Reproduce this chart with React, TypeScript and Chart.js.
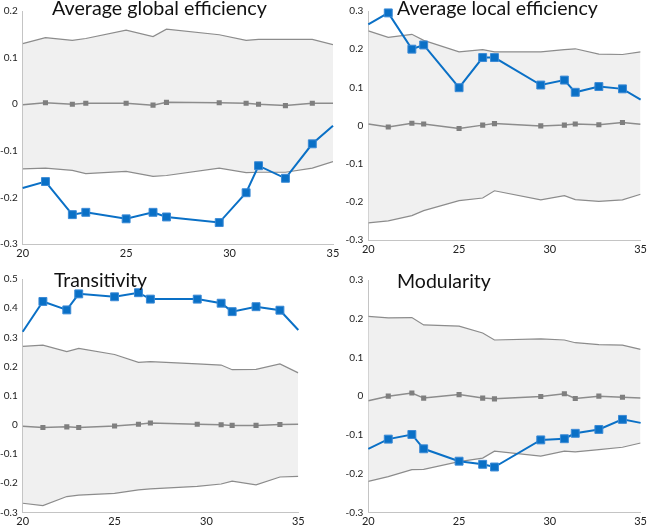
import React, { useEffect, useRef } from "react";
import { Chart, registerables } from "chart.js";

Chart.register(...registerables);

// ---- data ----
const X_VALUES = [20, 21.1, 22.4, 23.05, 25, 26.3, 26.95, 29.5, 30.8, 31.4, 32.7, 34, 35];
const SHOW_MARKER = [false, true, true, true, true, true, true, true, true, true, true, true, false];

const GLOBAL_OBS = [-0.18, -0.166, -0.237, -0.232, -0.246, -0.232, -0.242, -0.254, -0.19, -0.132, -0.159, -0.085, -0.046];
const GLOBAL_MEAN = [-0.001, 0.003, 0.0, 0.002, 0.002, -0.002, 0.004, 0.003, 0.002, 0.0, -0.003, 0.002, 0.002];
const GLOBAL_UPPER = [0.13, 0.143, 0.137, 0.141, 0.159, 0.145, 0.161, 0.149, 0.137, 0.139, 0.139, 0.139, 0.128];
const GLOBAL_LOWER = [-0.139, -0.137, -0.142, -0.149, -0.144, -0.155, -0.153, -0.137, -0.147, -0.146, -0.146, -0.137, -0.123];

const LOCAL_OBS = [0.265, 0.295, 0.2, 0.211, 0.099, 0.178, 0.178, 0.106, 0.119, 0.087, 0.102, 0.096, 0.068];
const LOCAL_MEAN = [0.004, -0.004, 0.006, 0.004, -0.008, 0.001, 0.005, -0.001, 0.001, 0.004, 0.002, 0.008, 0.003];
const LOCAL_UPPER = [0.248, 0.231, 0.239, 0.223, 0.193, 0.199, 0.193, 0.193, 0.199, 0.201, 0.187, 0.186, 0.193];
const LOCAL_LOWER = [-0.255, -0.25, -0.236, -0.223, -0.197, -0.19, -0.171, -0.195, -0.184, -0.194, -0.199, -0.195, -0.18];

const TRANS_OBS = [0.319, 0.423, 0.394, 0.449, 0.439, 0.453, 0.431, 0.431, 0.417, 0.388, 0.405, 0.393, 0.325];
const TRANS_MEAN = [-0.005, -0.009, -0.007, -0.009, -0.004, 0.002, 0.006, 0.002, 0.0, -0.002, -0.002, 0.001, 0.002];
const TRANS_UPPER = [0.269, 0.273, 0.251, 0.262, 0.241, 0.214, 0.217, 0.209, 0.205, 0.189, 0.19, 0.209, 0.178];
const TRANS_LOWER = [-0.269, -0.277, -0.246, -0.241, -0.235, -0.223, -0.22, -0.211, -0.203, -0.193, -0.206, -0.179, -0.177];

const MOD_OBS = [-0.136, -0.111, -0.099, -0.136, -0.168, -0.176, -0.183, -0.113, -0.11, -0.096, -0.086, -0.06, -0.069];
const MOD_MEAN = [-0.012, 0.0, 0.008, -0.005, 0.004, -0.005, -0.007, -0.001, 0.006, -0.006, 0.0, -0.003, -0.005];
const MOD_UPPER = [0.206, 0.202, 0.203, 0.184, 0.181, 0.163, 0.145, 0.148, 0.145, 0.138, 0.133, 0.132, 0.121];
const MOD_LOWER = [-0.22, -0.208, -0.19, -0.189, -0.169, -0.16, -0.142, -0.155, -0.142, -0.144, -0.138, -0.132, -0.121];

const TITLES = ["Average global efficiency", "Average local efficiency", "Transitivity", "Modularity"];
const X_TICKS = [20, 25, 30, 35];

// ---- styling / layout ----
const BLUE = "#0a70c6";
const GRAY_LINE = "#8c8c8c";
const MEAN_GRAY = "#7f7f7f";
const BAND_FILL = "#f0f0f0";
const AXIS_COLOR = "#c4c4c4";
const TICK_COLOR = "#222";

type PanelDef = {
  title: string;
  obs: number[];
  mean: number[];
  upper: number[];
  lower: number[];
  yMin: number;
  yMax: number;
  left: number;
  top: number;
  width: number;
  height: number;
  yAxisW: number;
  xAxisH: number;
  padTop: number;
  padRight: number;
  titleX: number;
  titleBase: number;
  titleW: number;
};

const PANELS: PanelDef[] = [
  { title: TITLES[0], obs: GLOBAL_OBS, mean: GLOBAL_MEAN, upper: GLOBAL_UPPER, lower: GLOBAL_LOWER, yMin: -0.3, yMax: 0.2,
    left: 0, top: 0, width: 345, height: 264, yAxisW: 22.7, xAxisH: 20, padTop: 10, padRight: 12,
    titleX: 52, titleBase: 15, titleW: 215 },
  { title: TITLES[1], obs: LOCAL_OBS, mean: LOCAL_MEAN, upper: LOCAL_UPPER, lower: LOCAL_LOWER, yMin: -0.3, yMax: 0.3,
    left: 340, top: 0, width: 310, height: 264, yAxisW: 28.3, xAxisH: 24, padTop: 7.3, padRight: 6.7,
    titleX: 57, titleBase: 15, titleW: 201 },
  { title: TITLES[2], obs: TRANS_OBS, mean: TRANS_MEAN, upper: TRANS_UPPER, lower: TRANS_LOWER, yMin: -0.3, yMax: 0.5,
    left: 0, top: 264, width: 310, height: 264, yAxisW: 22.7, xAxisH: 15.7, padTop: 15, padRight: 11.7,
    titleX: 54, titleBase: 23, titleW: 93 },
  { title: TITLES[3], obs: MOD_OBS, mean: MOD_MEAN, upper: MOD_UPPER, lower: MOD_LOWER, yMin: -0.3, yMax: 0.3,
    left: 340, top: 264, width: 310, height: 264, yAxisW: 28.3, xAxisH: 15.7, padTop: 16, padRight: 6.7,
    titleX: 57, titleBase: 24, titleW: 94 },
];

function toPoints(values: number[]) {
  return values.map((y, i) => ({ x: X_VALUES[i], y }));
}

function Panel({ def }: { def: PanelDef }) {
  const ref = useRef<HTMLCanvasElement | null>(null);

  useEffect(() => {
    if (!ref.current) return;
    const titlePlugin = {
      id: "panelTitle",
      afterDraw(chart: any) {
        const ctx = chart.ctx as CanvasRenderingContext2D;
        ctx.save();
        ctx.font = "20px Lato";
        const w = ctx.measureText(def.title).width;
        const size = (20 * def.titleW) / w;
        ctx.font = `${size}px Lato`;
        ctx.fillStyle = "#111";
        ctx.textBaseline = "alphabetic";
        ctx.textAlign = "left";
        ctx.fillText(def.title, def.titleX, def.titleBase);
        ctx.restore();
      },
    };

    const markerRadius = (r: number) => SHOW_MARKER.map((s) => (s ? r : 0));

    const chart = new Chart(ref.current, {
      type: "line",
      data: {
        datasets: [
          {
            label: "Observed",
            data: toPoints(def.obs),
            borderColor: BLUE,
            backgroundColor: BLUE,
            borderWidth: 2,
            pointStyle: "rect",
            pointRadius: markerRadius(5.6),
            pointBorderWidth: 1,
            pointBorderColor: "#3b8ad6",
            pointBackgroundColor: BLUE,
            fill: false,
            clip: false as any,
          },
          {
            label: "Null mean",
            data: toPoints(def.mean),
            borderColor: GRAY_LINE,
            backgroundColor: MEAN_GRAY,
            borderWidth: 1.5,
            pointStyle: "rect",
            pointRadius: markerRadius(3.6),
            pointBorderWidth: 0,
            pointBackgroundColor: MEAN_GRAY,
            fill: false,
          },
          {
            label: "Upper",
            data: toPoints(def.upper),
            borderColor: GRAY_LINE,
            backgroundColor: BAND_FILL,
            borderWidth: 1.2,
            pointRadius: 0,
            fill: 3,
          },
          {
            label: "Lower",
            data: toPoints(def.lower),
            borderColor: GRAY_LINE,
            borderWidth: 1.2,
            pointRadius: 0,
            fill: false,
          },
        ],
      },
      options: {
        animation: false,
        responsive: false,
        maintainAspectRatio: false,
        events: [],
        layout: { padding: { left: 0, right: def.padRight, top: def.padTop, bottom: 0 } },
        plugins: {
          legend: { display: false },
          tooltip: { enabled: false },
          title: { display: false },
          filler: { drawTime: "beforeDatasetsDraw" } as any,
        },
        scales: {
          x: {
            type: "linear",
            min: 20,
            max: 35,
            afterBuildTicks: (scale: any) => {
              scale.ticks = X_TICKS.map((v) => ({ value: v }));
            },
            afterFit: (scale: any) => {
              scale.height = def.xAxisH;
            },
            grid: { display: false, drawTicks: false },
            border: { display: true, color: AXIS_COLOR, width: 1 },
            ticks: {
              autoSkip: false,
              maxRotation: 0,
              padding: 3,
              color: TICK_COLOR,
              font: { family: "Lato", size: 11 },
              callback: (v: any) => String(v),
            },
          },
          y: {
            type: "linear",
            min: def.yMin,
            max: def.yMax,
            afterFit: (scale: any) => {
              scale.width = def.yAxisW;
            },
            grid: { display: false, drawTicks: false },
            border: { display: true, color: AXIS_COLOR, width: 1 },
            ticks: {
              stepSize: 0.1,
              padding: 5,
              color: TICK_COLOR,
              font: { family: "Lato", size: 10 },
              callback: (v: any) => {
                const n = Math.round(Number(v) * 10) / 10;
                return n === 0 ? "0" : String(n);
              },
            },
          },
        },
      },
      plugins: [titlePlugin],
    });
    return () => chart.destroy();
  }, [def]);

  return (
    <canvas
      ref={ref}
      width={def.width}
      height={def.height}
      style={{
        position: "absolute",
        left: def.left,
        top: def.top,
        width: def.width,
        height: def.height,
      }}
    />
  );
}

export default function App() {
  return (
    <div style={{ position: "absolute", left: 0, top: 0, width: 650, height: 528, background: "#fff" }}>
      {PANELS.map((p, i) => (
        <Panel key={i} def={p} />
      ))}
    </div>
  );
}
